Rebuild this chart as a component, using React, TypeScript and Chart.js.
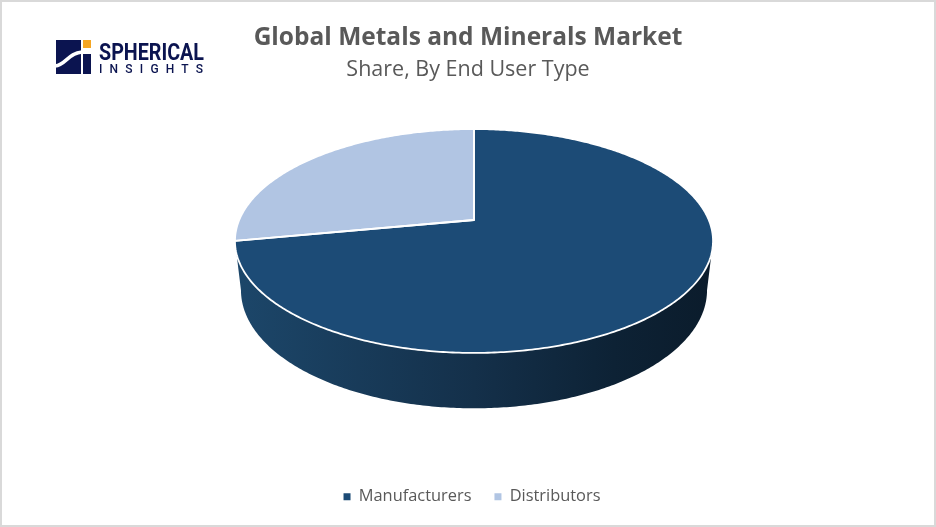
import React, { useEffect, useRef } from "react";
import { Chart, registerables } from "chart.js";

Chart.register(...registerables);

const categories = ["Manufacturers", "Distributors"];
const shares = [72, 28];
const sliceColors = ["#1c4b76", "#b1c5e3"];
const chartTitle = "Global Metals and Minerals Market";
const chartSubtitle = "Share, By End User Type";

const FONT = '"Open Sans", "Noto Sans", sans-serif';
const TEXT = "#595959";

// Perspective of the disc: a circle of angle t is projected by a homography.
const K = 0.1875;
const TOP = { cx: 474, cy: 220, a: 234.8, b: 108 };
const BOTTOM = { cx: 474, cy: 268, a: 228.9, b: 114 };
const project = (g: typeof TOP, t: number): [number, number] => {
  const w = 1 - K * Math.sin(t);
  return [g.cx + (g.a * Math.cos(t)) / w, g.cy + (g.b * Math.sin(t)) / w];
};

const tracePath = (ctx: CanvasRenderingContext2D, g: typeof TOP, from: number, to: number, first: boolean) => {
  const n = Math.max(2, Math.ceil(Math.abs(to - from) * 90));
  for (let i = 0; i <= n; i++) {
    const [x, y] = project(g, from + ((to - from) * i) / n);
    if (first && i === 0) ctx.moveTo(x, y);
    else ctx.lineTo(x, y);
  }
};

const disc3d = {
  id: "disc3d",
  beforeDatasetsDraw(chart: any) {
    const ctx: CanvasRenderingContext2D = chart.ctx;
    const arcs = chart.getDatasetMeta(0).data;
    const colors = chart.data.datasets[0].backgroundColor;
    const edgeA = Math.asin(K);
    const edgeB = Math.PI - edgeA;
    ctx.save();
    // side wall of the slices that face the viewer
    arcs.forEach((arc: any, i: number) => {
      const from = Math.max(arc.startAngle, edgeA);
      const to = Math.min(arc.endAngle, edgeB);
      if (to <= from) return;
      ctx.beginPath();
      tracePath(ctx, TOP, from, to, true);
      tracePath(ctx, BOTTOM, to, from, false);
      ctx.closePath();
      const grad = ctx.createLinearGradient(241, 0, 707, 0);
      grad.addColorStop(0, "#1c4669");
      grad.addColorStop(0.5, "#14304a");
      grad.addColorStop(0.8, "#0d2235");
      grad.addColorStop(1, "#0b1c2c");
      ctx.fillStyle = i === 0 ? grad : colors[i];
      ctx.fill();
    });
    // top face
    arcs.forEach((arc: any, i: number) => {
      ctx.beginPath();
      ctx.moveTo(TOP.cx, TOP.cy);
      tracePath(ctx, TOP, arc.startAngle, arc.endAngle, false);
      ctx.closePath();
      ctx.fillStyle = colors[i];
      ctx.fill();
    });
    arcs.forEach((arc: any) => {
      ctx.beginPath();
      ctx.moveTo(TOP.cx, TOP.cy);
      tracePath(ctx, TOP, arc.startAngle, arc.endAngle, false);
      ctx.closePath();
      ctx.strokeStyle = "#ffffff";
      ctx.lineWidth = 1.8;
      ctx.lineJoin = "round";
      ctx.stroke();
    });
    ctx.restore();
    return false;
  },
};

const pageDecor = {
  id: "pageDecor",
  beforeDraw(chart: any) {
    const ctx: CanvasRenderingContext2D = chart.ctx;
    ctx.save();
    ctx.fillStyle = "#ffffff";
    ctx.fillRect(0, 0, chart.width, chart.height);
    ctx.strokeStyle = "#d9d9d9";
    ctx.lineWidth = 2;
    ctx.strokeRect(1, 1, chart.width - 2, chart.height - 2);

    // brand mark
    const navy = "#0b1450";
    ctx.fillStyle = navy;
    ctx.fillRect(56, 40, 25, 34);
    ctx.fillRect(83, 54, 8, 20);
    ctx.fillStyle = "#f5a623";
    ctx.fillRect(83, 40, 8, 8);
    ctx.strokeStyle = "#ffffff";
    ctx.lineWidth = 3.5;
    ctx.beginPath();
    ctx.moveTo(55, 66);
    ctx.bezierCurveTo(66, 65, 68, 53, 82, 52);
    ctx.stroke();
    ctx.fillStyle = navy;
    ctx.textBaseline = "alphabetic";
    ctx.textAlign = "left";
    ctx.font = 'bold 24px "Roboto", sans-serif';
    ctx.fillText("SPHERICAL", 99, 60, 105);
    ctx.font = '500 12px "Roboto", sans-serif';
    (ctx as any).letterSpacing = "7.2px";
    ctx.fillText("INSIGHTS", 99, 73);
    (ctx as any).letterSpacing = "0px";
    ctx.restore();
  },
  afterLayout(chart: any) {
    // the legend sits a little right of the page centre
    chart.legend.left += 4;
    chart.legend.right += 4;
  },
};

export default function App() {
  const ref = useRef<HTMLCanvasElement>(null);
  useEffect(() => {
    document.body.style.margin = "0";
    const chart = new Chart(ref.current as HTMLCanvasElement, {
      type: "pie",
      data: {
        labels: categories,
        datasets: [{ data: shares, backgroundColor: sliceColors, borderWidth: 0 }],
      },
      options: {
        responsive: false,
        animation: false,
        layout: { padding: { top: 0, bottom: 12 } },
        plugins: {
          title: {
            display: true,
            text: chartTitle,
            color: TEXT,
            font: { family: FONT, size: 24.5, weight: "bold" },
            padding: { top: 23, bottom: 0 },
          },
          subtitle: {
            display: true,
            text: chartSubtitle,
            color: TEXT,
            font: { family: FONT, size: 21.5, weight: "normal" },
            padding: { top: 5, bottom: 10 },
          },
          legend: {
            position: "bottom",
            labels: {
              color: TEXT,
              font: { family: FONT, size: 16.4 },
              boxWidth: 7,
              boxHeight: 7,
              padding: 23,
            },
          },
          tooltip: { enabled: false },
        },
      },
      plugins: [pageDecor, disc3d],
    } as any);
    return () => chart.destroy();
  }, []);
  return <canvas ref={ref} width={936} height={527} style={{ display: "block", width: 936, height: 527 }} />;
}
